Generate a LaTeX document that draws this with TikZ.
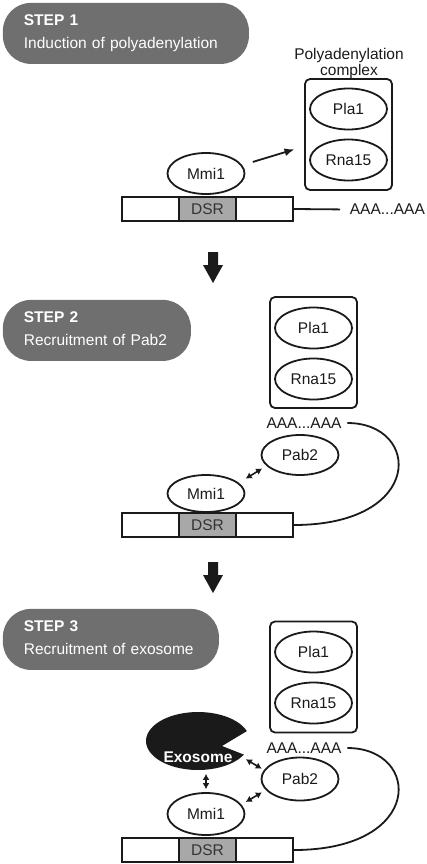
\documentclass[tikz,border=0pt]{standalone}
\usepackage{fontspec}
\setmainfont{Liberation Sans}
\usetikzlibrary{arrows.meta,shapes.geometric}

\definecolor{pillgray}{HTML}{6F6F6F}
\definecolor{dsrgray}{HTML}{A8A8A8}
\definecolor{ink}{HTML}{1A1A1A}

\newcommand{\hstrut}{\rule[-4pt]{0pt}{16pt}}

\tikzset{
  pill/.style={anchor=north west, fill=pillgray, rounded corners=28pt, text=white, align=left,
    inner xsep=21pt, inner ysep=0pt, minimum height=61pt, font=\fontsize{15.5}{23}\selectfont},
  prot/.style={ellipse, draw=ink, inner sep=0pt, minimum width=77pt, minimum height=41pt},
  cplx/.style={draw=ink, rounded corners=5pt, minimum width=87pt, minimum height=111pt},
  gene/.style={draw=ink, inner sep=0pt, minimum width=171pt, minimum height=24pt},
  dsr/.style={draw=ink, fill=dsrgray, inner sep=0pt, minimum width=57pt, minimum height=24pt, text=black!80},
  tail/.style={inner sep=3pt},
  twoway/.style={{Latex[length=6pt,width=7pt]}-{Latex[length=6pt,width=7pt]}, line width=1.6pt, draw=ink},
  bigarrow/.style={fill=ink}
}

\begin{document}
\begin{tikzpicture}[x=1pt, y=-1pt, line width=1.8pt,
    every node/.style={font=\fontsize{15.5}{18}\selectfont, text=ink}]
  \useasboundingbox (0,0) rectangle (427,864);

  % step 1
  \node[pill, text width=204pt] (step1) at (2,2) {\textbf{STEP 1}\hstrut\\Induction of polyadenylation\hstrut};
  \node[anchor=north, align=center, inner sep=0pt, font=\fontsize{15.5}{16}\selectfont] (cplxlabel) at (349,47) {Polyadenylation\\complex};
  \node[cplx] (box1) at (348.5,134.5) {};
  \node[prot] (pla1) at (348.5,109) {Pla1};
  \node[prot] (rna1) at (348.5,160) {Rna15};
  \node[prot, minimum height=41pt] (mmi1) at (206,173.5) {Mmi1};
  \node[gene] (gene1) at (207.5,209) {};
  \node[dsr] (dsr1) at (207.5,209) {DSR};
  \node[anchor=west, inner sep=0pt] (tail1) at (349,209.5) {AAA...AAA};
  \draw[draw=ink, shorten >=9pt] (gene1.east) -- (tail1.west);
  \draw[draw=ink, -{Latex[length=10pt,width=8pt]}, shorten <=11pt, shorten >=10pt] (mmi1.13) -- (box1.195);

  \foreach \y in {252,562}
    \fill[bigarrow] (208,\y) -- (218,\y) -- (218,\y+13) -- (223,\y+13) -- (213,\y+31)
      -- (203,\y+13) -- (208,\y+13) -- cycle;

  % step 2
  \node[pill, text width=146pt] (step2) at (2,299) {\textbf{STEP 2}\hstrut\\Recruitment of Pab2\hstrut};
  \node[cplx] (box2) at (313.5,352.5) {};
  \node[prot] (pla2) at (313.5,328) {Pla1};
  \node[prot] (rna2) at (313.5,379) {Rna15};
  \node[tail] (tail2) at (304,423) {AAA...AAA};
  \node[prot, minimum height=40pt] (pab2) at (300,455) {Pab2};
  \node[prot, minimum height=37pt] (mmi2) at (206,493.5) {Mmi1};
  \node[gene] (gene2) at (207.5,525) {};
  \node[dsr] (dsr2) at (207.5,525) {DSR};
  \draw[draw=ink, shorten <=2pt] (tail2.east) .. controls +(76,0) and +(131,0) .. (gene2.east);
  \draw[twoway, shorten <=8pt, shorten >=5pt] (mmi2.18) -- (pab2.198);

  % step 3
  \node[pill, text width=174pt] (step3) at (2,608) {\textbf{STEP 3}\hstrut\\Recruitment of exosome\hstrut};
  \node[cplx] (box3) at (313.5,677) {};
  \node[prot] (pla3) at (313.5,652) {Pla1};
  \node[prot] (rna3) at (313.5,703) {Rna15};
  \node[tail] (tail3) at (304,748) {AAA...AAA};
  \node[ellipse, inner sep=0pt, minimum width=104pt, minimum height=58pt] (exo) at (198,741) {};
  \fill[ink] (exo.center) ++(-20:52 and 29) arc[start angle=-20, end angle=-332, x radius=52, y radius=29]
    -- (222,746) -- cycle;
  \node[text=white, font=\fontsize{15.5}{18}\selectfont\bfseries] (exolabel) at (198,757) {Exosome};
  \node[prot, minimum height=43pt] (pab3) at (300,779) {Pab2};
  \node[prot, minimum height=42pt] (mmi3) at (206,814) {Mmi1};
  \node[gene] (gene3) at (207.5,850) {};
  \node[dsr] (dsr3) at (207.5,850) {DSR};
  \draw[draw=ink, shorten <=2pt] (tail3.east) .. controls +(76,0) and +(131,0) .. (gene3.east);
  \draw[twoway, shorten <=4pt, shorten >=2.5pt] (exo.-20) -- (pab3.166);
  \draw[twoway, shorten <=3pt, shorten >=3pt] (exo.south -| mmi3.north) -- (mmi3.north);
  \draw[twoway, shorten <=5pt, shorten >=4.5pt] (mmi3.15) -- (pab3.198);
\end{tikzpicture}
\end{document}
